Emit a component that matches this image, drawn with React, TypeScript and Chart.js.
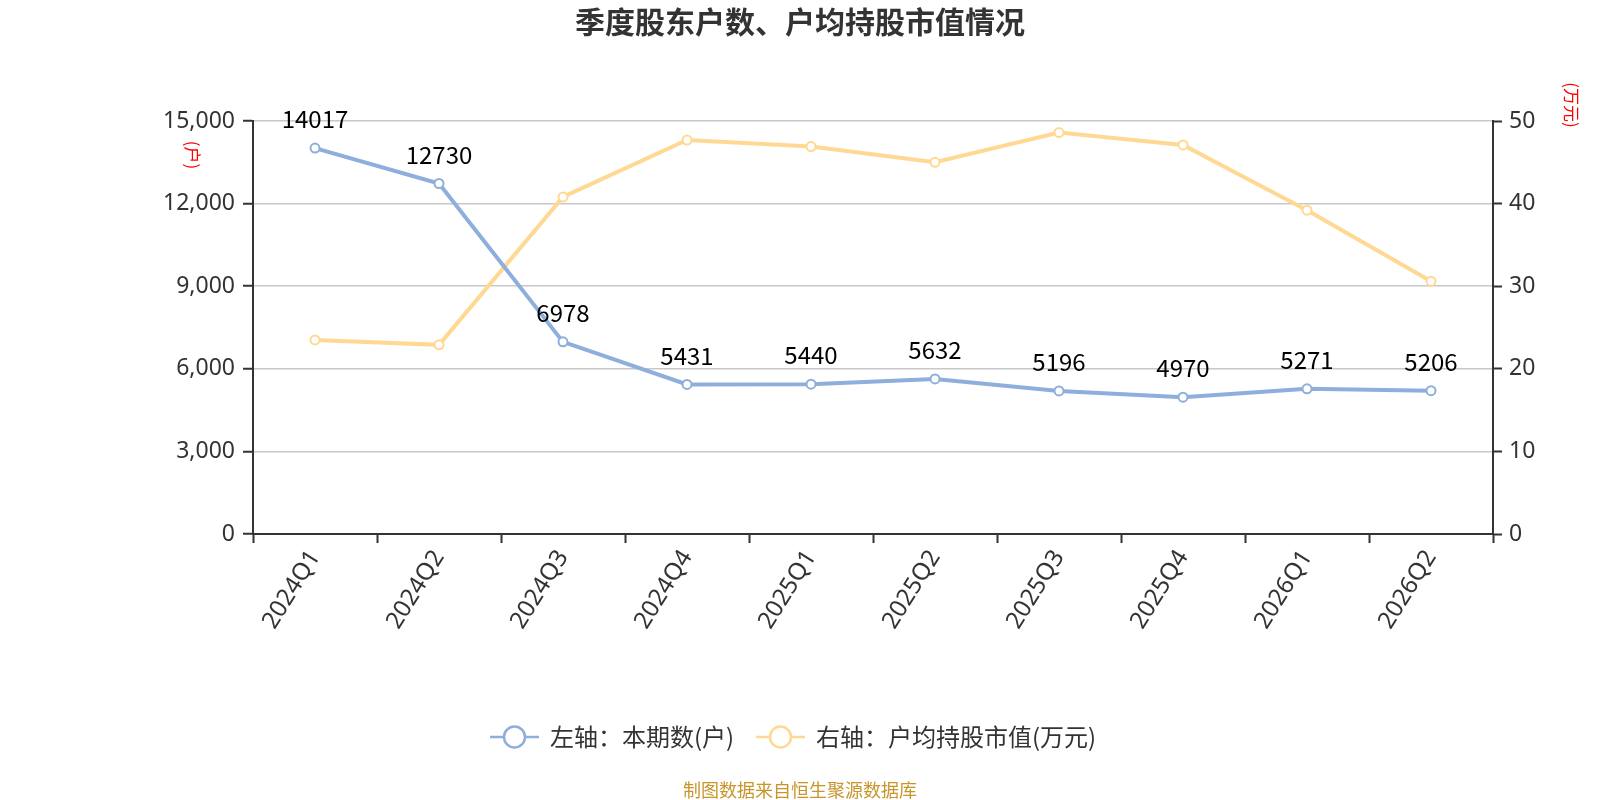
import React, { useEffect, useRef } from 'react';
import { Chart, registerables } from 'chart.js';

Chart.register(...registerables);

const quarters = ['2024Q1', '2024Q2', '2024Q3', '2024Q4', '2025Q1', '2025Q2', '2025Q3', '2025Q4', '2026Q1', '2026Q2'];
const holders = [14017, 12730, 6978, 5431, 5440, 5632, 5196, 4970, 5271, 5206];
const avgValue = [23.5, 22.9, 40.8, 47.7, 46.9, 45.0, 48.6, 47.1, 39.2, 30.6];

const BLUE = '#8eaedb';
const YELLOW = '#ffd993';
const TEXT = '#333333';
const CJK = '"Noto Sans CJK SC", "Noto Sans", sans-serif';
const NUM = '"Noto Sans", "Open Sans", sans-serif';

const overlay = {
  id: 'overlay',
  afterDraw(chart: Chart) {
    const ctx = chart.ctx;
    ctx.save();

    // title
    ctx.fillStyle = TEXT;
    ctx.font = `bold 30px ${CJK}`;
    ctx.textAlign = 'center';
    ctx.textBaseline = 'middle';
    ctx.fillText('季度股东户数、户均持股市值情况', 800, 22);

    // rotated axis titles
    const vtext = (s: string, x: number, y: number) => {
      ctx.save();
      ctx.translate(x, y);
      ctx.rotate(Math.PI / 2);
      ctx.fillStyle = '#ff0000';
      ctx.font = `17px ${CJK}`;
      ctx.textAlign = 'center';
      ctx.textBaseline = 'middle';
      ctx.fillText(s, 0, 0);
      ctx.restore();
    };
    vtext('(户)', 192, 155);
    vtext('(万元)', 1571, 105);

    // data labels for the holder count line
    const meta = chart.getDatasetMeta(0);
    ctx.fillStyle = '#000000';
    ctx.font = `24px ${CJK}`;
    ctx.textAlign = 'center';
    ctx.textBaseline = 'middle';
    meta.data.forEach((pt: any, i: number) => {
      ctx.fillText(String(holders[i]), pt.x, pt.y - 29);
    });

    // legend
    const item = (x: number, textX: number, color: string, label: string) => {
      const y = 737;
      ctx.strokeStyle = color;
      ctx.lineWidth = 2.5;
      ctx.beginPath();
      ctx.moveTo(x, y);
      ctx.lineTo(x + 49, y);
      ctx.stroke();
      ctx.beginPath();
      ctx.arc(x + 24.5, y, 10.5, 0, Math.PI * 2);
      ctx.fillStyle = '#ffffff';
      ctx.fill();
      ctx.stroke();
      ctx.fillStyle = TEXT;
      ctx.font = `24px ${CJK}`;
      ctx.textAlign = 'left';
      ctx.textBaseline = 'middle';
      ctx.fillText(label, textX, y);
    };
    item(490, 550, BLUE, '左轴：本期数(户)');
    item(756, 816, YELLOW, '右轴：户均持股市值(万元)');

    // footer
    ctx.fillStyle = '#c8952a';
    ctx.font = `18px ${CJK}`;
    ctx.textAlign = 'center';
    ctx.textBaseline = 'middle';
    ctx.fillText('制图数据来自恒生聚源数据库', 800, 790);

    ctx.restore();
  },
};

export default function App() {
  const canvasRef = useRef<HTMLCanvasElement>(null);

  useEffect(() => {
    if (!canvasRef.current) return;
    const chart = new Chart(canvasRef.current, {
      type: 'line',
      data: {
        labels: quarters,
        datasets: [
          {
            label: '左轴：本期数(户)',
            data: holders,
            yAxisID: 'y',
            borderColor: BLUE,
            borderWidth: 4,
            pointRadius: 4.5,
            pointBorderWidth: 2,
            pointBackgroundColor: '#ffffff',
            pointBorderColor: BLUE,
            tension: 0,
          },
          {
            label: '右轴：户均持股市值(万元)',
            data: avgValue,
            yAxisID: 'y1',
            borderColor: YELLOW,
            borderWidth: 4,
            pointRadius: 4.5,
            pointBorderWidth: 2,
            pointBackgroundColor: '#ffffff',
            pointBorderColor: YELLOW,
            tension: 0,
          },
        ],
      },
      options: {
        responsive: false,
        animation: false,
        layout: { padding: { top: 121, left: 0, right: 0, bottom: 0 } },
        plugins: {
          legend: { display: false },
          title: { display: false },
          tooltip: { enabled: false },
        },
        scales: {
          x: {
            offset: true,
            grid: { offset: true, drawOnChartArea: false, tickLength: 9, tickColor: TEXT, tickWidth: 2 },
            border: { color: TEXT, width: 2 },
            ticks: {
              color: TEXT,
              font: { family: NUM, size: 24 },
              minRotation: 58,
              maxRotation: 58,
              padding: 2,
            },
            afterFit: (scale: any) => {
              scale.height = 266;
            },
          },
          y: {
            position: 'left',
            min: 0,
            max: 15000,
            grid: { color: '#c8c8c8', lineWidth: 1.5, tickLength: 10, tickColor: TEXT, tickWidth: 2 },
            border: { color: TEXT, width: 2 },
            ticks: {
              stepSize: 3000,
              color: TEXT,
              padding: 8,
              font: { family: NUM, size: 23 },
              callback: (v: any) => Number(v).toLocaleString('en-US'),
            },
            afterFit: (scale: any) => {
              scale.width = 253;
            },
          },
          y1: {
            position: 'right',
            min: 0,
            max: 50,
            grid: { drawOnChartArea: false, tickLength: 9, tickColor: TEXT, tickWidth: 2 },
            border: { color: TEXT, width: 2 },
            ticks: {
              stepSize: 10,
              color: TEXT,
              padding: 7,
              font: { family: NUM, size: 23 },
            },
            afterFit: (scale: any) => {
              scale.width = 107;
            },
          },
        },
      },
      plugins: [overlay],
    });
    return () => chart.destroy();
  }, []);

  return (
    <div style={{ position: 'fixed', left: 0, top: 0, width: 1600, height: 800, background: '#fff' }}>
      <canvas ref={canvasRef} width={1600} height={800} style={{ width: 1600, height: 800 }} />
    </div>
  );
}
